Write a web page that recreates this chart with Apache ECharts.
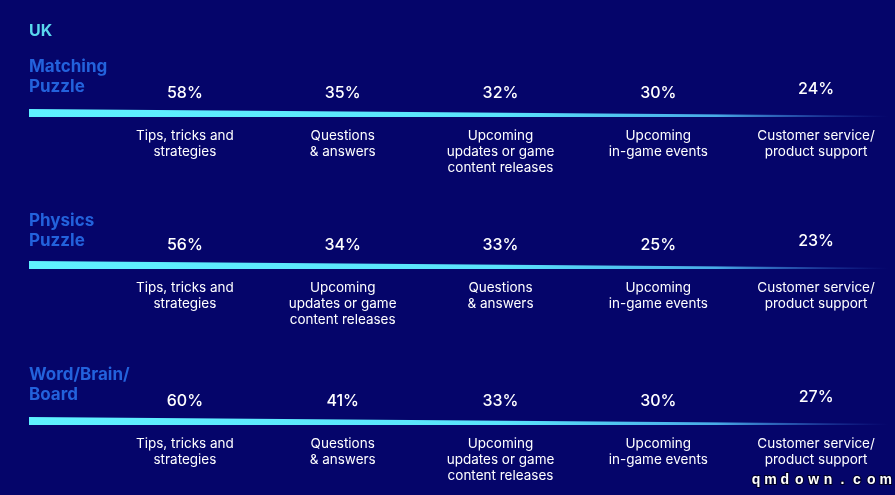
<!DOCTYPE html>
<html>
<head>
<meta charset="utf-8">
<script src="https://cdn.jsdelivr.net/npm/echarts@6/dist/echarts.min.js"></script>
<style>
html,body{margin:0;padding:0;background:#05056a;}
#chart{width:895px;height:495px;}
</style>
</head>
<body>
<div id="chart"></div>
<script>
const regionTitle = 'UK';
const groupNames = ['Matching\nPuzzle', 'Physics\nPuzzle', 'Word/Brain/\nBoard'];
const categories1 = ['Tips, tricks and\nstrategies', 'Questions\n& answers', 'Upcoming\nupdates or game\ncontent releases', 'Upcoming\nin-game events', 'Customer service/\nproduct support'];
const categories2 = ['Tips, tricks and\nstrategies', 'Upcoming\nupdates or game\ncontent releases', 'Questions\n& answers', 'Upcoming\nin-game events', 'Customer service/\nproduct support'];
const categories3 = ['Tips, tricks and\nstrategies', 'Questions\n& answers', 'Upcoming\nupdates or game\ncontent releases', 'Upcoming\nin-game events', 'Customer service/\nproduct support'];
const values1 = [58, 35, 32, 30, 24];
const values2 = [56, 34, 33, 25, 23];
const values3 = [60, 41, 33, 30, 27];
const watermark = 'qmdown.com';

const categoriesList = [categories1, categories2, categories3];
const valuesList = [values1, values2, values3];
const FONT = 'Inter, "Open Sans", sans-serif';

// layout per group (pixel tops)
const pctY = [93, 245, 401];
const barBottom = [117, 269, 425];
const titleY = [67, 221, 375];

const chart = echarts.init(document.getElementById('chart'));

const grids = [], xAxes = [], yAxes = [], series = [], graphics = [];
graphics.push({
  type: 'text', left: 29, top: 23,
  style: { text: regionTitle, fill: '#5ad8ee', font: 'bold 16px ' + FONT }
});
for (let g = 0; g < 3; g++) {
  grids.push({ left: 106, width: 792, top: pctY[g], height: 30, containLabel: false });
  xAxes.push({
    type: 'category', gridIndex: g, data: categoriesList[g],
    axisLine: { show: false }, axisTick: { show: false }, splitLine: { show: false },
    axisLabel: { color: '#ffffff', fontFamily: FONT, fontSize: 13.5, lineHeight: 16, margin: 5, interval: 0, align: 'center' }
  });
  yAxes.push({ type: 'value', gridIndex: g, min: 0, max: 1, show: false });
  series.push({
    type: 'scatter', xAxisIndex: g, yAxisIndex: g, symbolSize: 1,
    itemStyle: { color: 'rgba(0,0,0,0)', opacity: 1 },
    silent: true,
    data: valuesList[g].map((v, i) => ({
      value: [i, 1, v],
      label: { offset: [0, i === 4 ? -4 : 0] }
    })),
    label: {
      show: true, position: 'inside', color: '#ffffff', fontFamily: FONT, fontSize: 16, fontWeight: 500,
      formatter: p => p.value[2] + '%'
    }
  });
  graphics.push({
    type: 'text', left: 29, top: titleY[g] - 10,
    style: { text: groupNames[g], fill: '#2362dc', font: 'bold 17px ' + FONT, lineHeight: 20 }
  });
  const b = barBottom[g];
  graphics.push({
    type: 'polygon',
    shape: { points: [[29, b - 8], [888, b - 1.2], [888, b], [29, b]] },
    style: {
      fill: new echarts.graphic.LinearGradient(0, 0, 1, 0, [
        { offset: 0, color: '#5ff2ff' },
        { offset: 0.55, color: '#5ae4fb' },
        { offset: 0.8, color: 'rgba(80,190,245,0.9)' },
        { offset: 1, color: 'rgba(60,120,230,0)' }
      ])
    }
  });
}
watermark.split('').forEach((ch, i) => {
  graphics.push({
    type: 'text', x: 756 + i * 14.4, y: 480,
    style: { text: ch, fill: '#ffffff', font: 'bold 14px "Liberation Sans", sans-serif',
      align: 'center', verticalAlign: 'middle', stroke: '#000022', lineWidth: 2 }
  });
});

chart.setOption({
  backgroundColor: '#05056a',
  animation: false,
  grid: grids, xAxis: xAxes, yAxis: yAxes, series: series,
  graphic: graphics
});
</script>
</body>
</html>
